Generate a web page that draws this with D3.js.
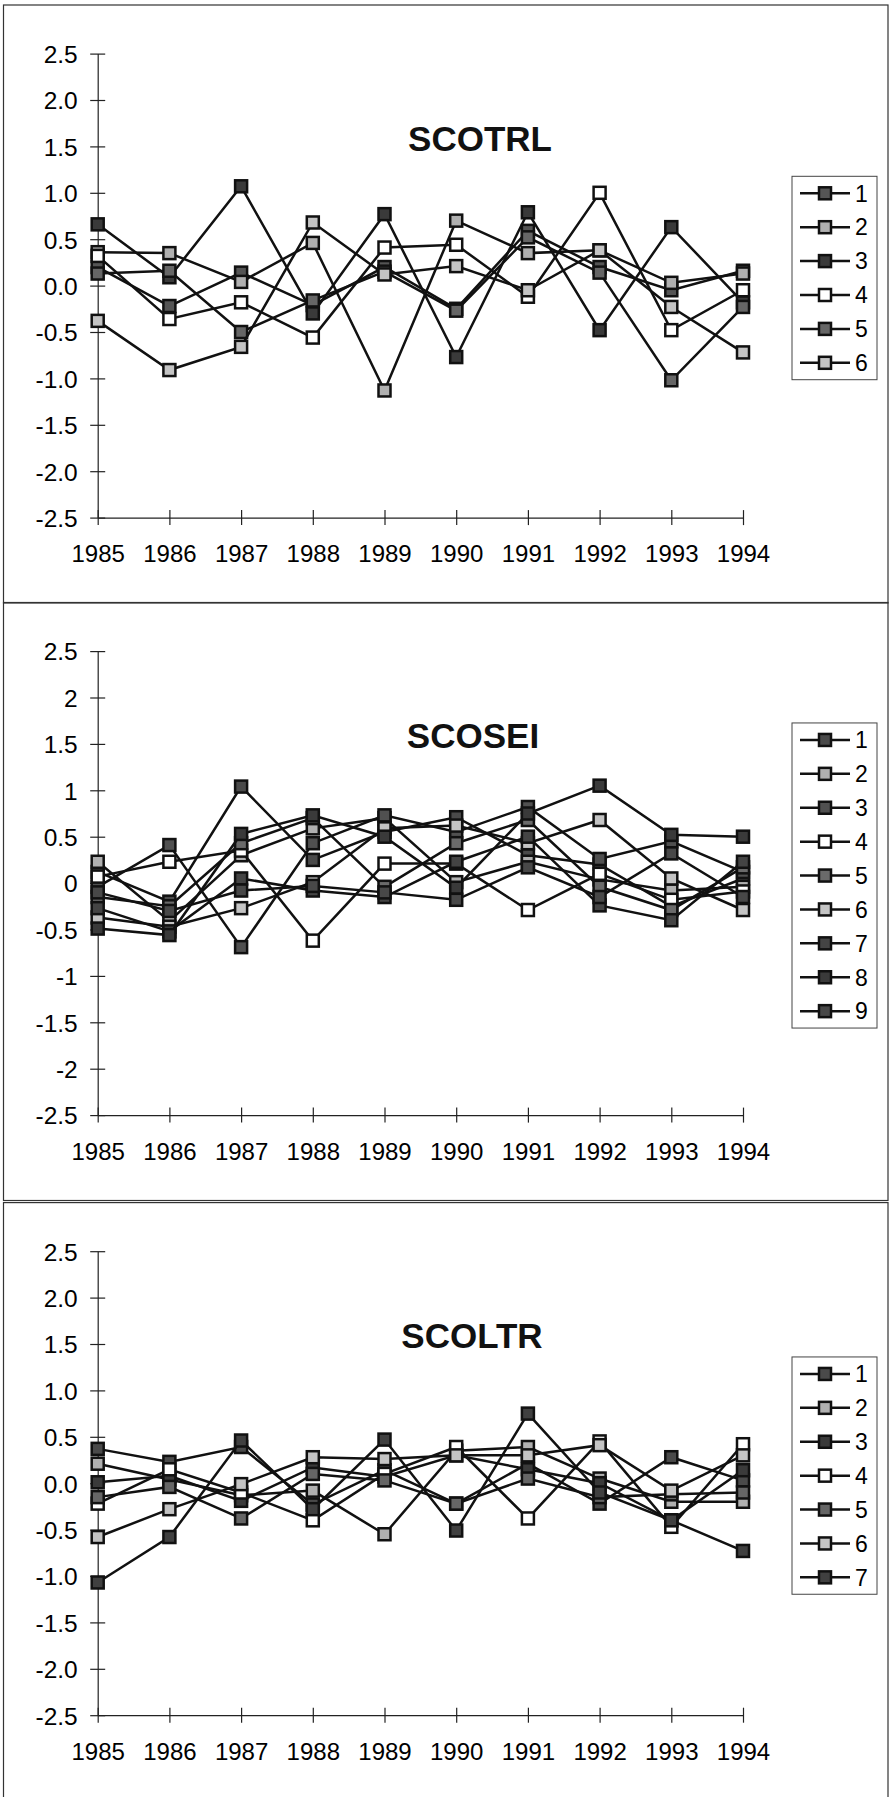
<!DOCTYPE html>
<html>
<head>
<meta charset="utf-8">
<script src="https://cdn.jsdelivr.net/npm/d3@7"></script>
<style>
  body { margin: 0; background: #fff; }
  svg { display: block; font-family: "Liberation Sans", Arial, sans-serif; }
</style>
</head>
<body>
<div id="chart"></div>
<script>
// Datos
const years = [1985, 1986, 1987, 1988, 1989, 1990, 1991, 1992, 1993, 1994];
const yTicks = [2.5, 2, 1.5, 1, 0.5, 0, -0.5, -1, -1.5, -2, -2.5];
const titles = ["SCOTRL", "SCOSEI", "SCOLTR"];

const scotrl = [
  [0.20, -0.22, 0.14, -0.21, 0.20, -0.25, 0.59, 0.20, -0.05, 0.16],
  [0.36, 0.35, 0.04, 0.46, -1.13, 0.70, 0.35, 0.38, 0.03, 0.13],
  [0.66, 0.09, 1.07, -0.30, 0.77, -0.77, 0.79, -0.48, 0.63, -0.18],
  [0.32, -0.36, -0.18, -0.56, 0.41, 0.44, -0.12, 1.00, -0.48, -0.05],
  [0.13, 0.16, -0.50, -0.16, 0.15, -0.27, 0.52, 0.14, -1.02, -0.23],
  [-0.38, -0.91, -0.66, 0.68, 0.12, 0.21, -0.05, 0.38, -0.23, -0.72]
];

const scosei = [
  [0.12, -0.20, 1.04, 0.25, 0.55, 0.71, 0.30, 0.20, -0.25, 0.05],
  [0.23, -0.41, 0.30, 0.59, 0.70, 0.01, 0.23, 0.04, -0.08, -0.04],
  [-0.04, 0.41, -0.69, 0.43, 0.73, 0.55, 0.82, 0.26, 0.45, 0.12],
  [0.07, 0.23, 0.35, -0.62, 0.21, 0.21, -0.29, 0.10, -0.18, -0.09],
  [-0.15, -0.25, 0.43, 0.70, -0.04, 0.43, 0.68, -0.04, -0.29, 0.17],
  [-0.37, -0.47, -0.27, 0.01, 0.59, 0.62, 0.43, 0.68, 0.05, -0.29],
  [-0.27, -0.52, 0.05, -0.08, -0.15, 0.23, 0.50, -0.24, -0.40, 0.23],
  [-0.49, -0.56, 0.53, 0.73, 0.50, -0.05, 0.75, 1.05, 0.52, 0.50],
  [-0.10, -0.30, -0.08, -0.03, -0.10, -0.18, 0.17, -0.15, 0.32, -0.15]
];

const scoltr = [
  [0.37, 0.23, 0.39, -0.23, 0.14, -0.22, 0.21, -0.22, 0.28, 0.03],
  [0.21, 0.04, -0.13, -0.08, -0.55, 0.35, 0.39, 0.05, -0.20, -0.20],
  [0.01, 0.08, -0.19, 0.17, 0.07, 0.30, 0.15, 0.00, -0.40, 0.14],
  [-0.22, 0.15, -0.10, -0.40, 0.10, 0.39, -0.38, 0.45, -0.47, 0.42],
  [-0.15, -0.04, -0.38, 0.10, 0.03, -0.22, 0.05, -0.15, -0.12, -0.10],
  [-0.58, -0.28, -0.01, 0.28, 0.26, 0.30, 0.30, 0.41, -0.08, 0.30],
  [-1.07, -0.58, 0.46, -0.28, 0.47, -0.51, 0.75, -0.10, -0.40, -0.73]
];

// Estilos
const fills6 = ["#555", "#b0b0b0", "#3a3a3a", "#fff", "#666", "#c4c4c4"];
const fills9 = ["#4a4a4a", "#b0b0b0", "#505050", "#fff", "#6a6a6a", "#c4c4c4", "#444", "#3a3a3a", "#484848"];
const fills7 = ["#4a4a4a", "#b0b0b0", "#3a3a3a", "#fff", "#666", "#c4c4c4", "#404040"];

const fmtDec = d => d.toFixed(1);
const fmtShort = d => String(d);

const panels = [
  { title: titles[0], series: scotrl, fills: fills6, fmt: fmtDec, top: 0, titleX: 480 },
  { title: titles[1], series: scosei, fills: fills9, fmt: fmtShort, top: 597.5, titleX: 473 },
  { title: titles[2], series: scoltr, fills: fills7, fmt: fmtDec, top: 1197.6, titleX: 472 }
];

const width = 891, height = 1797;
const markerSize = 12;
const lineW = 2.5;

const svg = d3.select("#chart").append("svg")
  .attr("width", width)
  .attr("height", height);

const x = d3.scaleLinear().domain([1985, 1994]).range([97.7, 743]);
const y = d3.scaleLinear().domain([-2.5, 2.5]).range([517.6, 53.6]);

function drawPanel(p) {
  const g = svg.append("g").attr("transform", `translate(0,${p.top})`);

  // marco
  g.append("rect")
    .attr("x", 3.5).attr("y", 5)
    .attr("width", 884.5).attr("height", 598)
    .attr("fill", "none").attr("stroke", "#333").attr("stroke-width", 1.2);

  // eje Y
  const yAxis = d3.axisLeft(y).tickValues(yTicks).tickFormat(p.fmt).tickSizeOuter(0);
  const gy = g.append("g")
    .attr("transform", `translate(${x(1985)},0)`)
    .call(yAxis)
    .attr("font-family", null).attr("font-size", null);
  gy.select(".domain").attr("stroke", "#222").attr("stroke-width", 1.2);
  gy.selectAll(".tick line").attr("x1", -7.5).attr("x2", 7.5).attr("stroke", "#222").attr("stroke-width", 1.2);
  gy.selectAll(".tick text")
    .attr("x", -20).attr("dy", "0.36em")
    .attr("font-size", 24.5).attr("fill", "#000");

  // eje X
  const xAxis = d3.axisBottom(x).tickValues(years).tickFormat(d3.format("d")).tickSizeOuter(0);
  const gx = g.append("g")
    .attr("transform", `translate(0,${y(-2.5)})`)
    .call(xAxis)
    .attr("font-family", null).attr("font-size", null);
  gx.select(".domain").attr("stroke", "#222").attr("stroke-width", 1.2);
  gx.selectAll(".tick line").attr("y1", -7.5).attr("y2", 7.5).attr("stroke", "#222").attr("stroke-width", 1.2);
  gx.selectAll(".tick text")
    .attr("y", 44.5).attr("dy", null)
    .attr("font-size", 24).attr("fill", "#000");

  // series
  const line = d3.line()
    .x((d, i) => x(years[i]))
    .y(d => y(d));

  p.series.forEach((values, s) => {
    const sg = g.append("g").attr("class", "series");
    sg.append("path")
      .attr("d", line(values))
      .attr("fill", "none")
      .attr("stroke", "#111")
      .attr("stroke-width", lineW);
    sg.selectAll("rect")
      .data(values)
      .enter()
      .append("rect")
      .attr("x", (d, i) => x(years[i]) - markerSize / 2)
      .attr("y", d => y(d) - markerSize / 2)
      .attr("width", markerSize)
      .attr("height", markerSize)
      .attr("fill", p.fills[s])
      .attr("stroke", "#111")
      .attr("stroke-width", lineW);
  });

  // título
  g.append("text")
    .attr("x", p.titleX).attr("y", 150.5)
    .attr("text-anchor", "middle")
    .attr("font-size", 35).attr("font-weight", "bold")
    .attr("fill", "#111")
    .text(p.title);

  // leyenda
  const n = p.series.length;
  const rowH = 33.9;
  const boxTop = 278 - n * rowH / 2;
  const lg = g.append("g");
  lg.append("rect")
    .attr("x", 792).attr("y", boxTop)
    .attr("width", 85).attr("height", n * rowH)
    .attr("fill", "#fff").attr("stroke", "#444").attr("stroke-width", 1);

  const rows = lg.selectAll(".row")
    .data(p.series.map((_, i) => i))
    .enter()
    .append("g")
    .attr("transform", i => `translate(0,${boxTop + 17 + i * rowH})`);
  rows.append("line")
    .attr("x1", 800).attr("x2", 850)
    .attr("stroke", "#111").attr("stroke-width", lineW);
  rows.append("rect")
    .attr("x", 825 - markerSize / 2).attr("y", -markerSize / 2)
    .attr("width", markerSize).attr("height", markerSize)
    .attr("fill", i => p.fills[i])
    .attr("stroke", "#111").attr("stroke-width", lineW);
  rows.append("text")
    .attr("x", 855).attr("dy", "0.36em")
    .attr("font-size", 23).attr("fill", "#000")
    .text(i => i + 1);
}

panels.forEach(drawPanel);
</script>
</body>
</html>
